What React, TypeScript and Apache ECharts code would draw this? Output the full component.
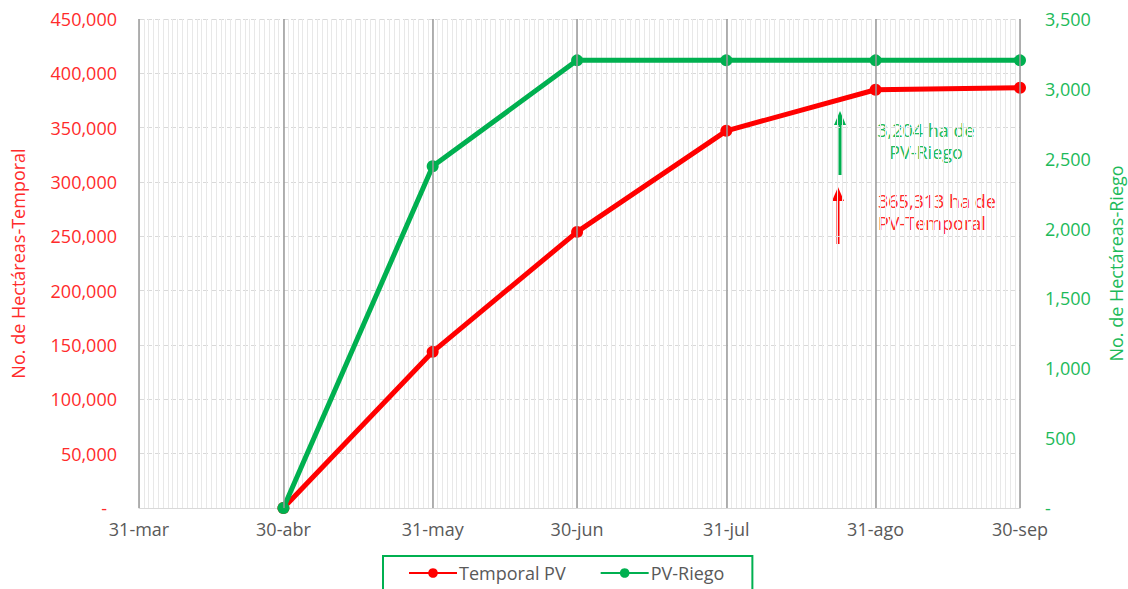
import React, { useEffect, useRef } from "react";
import * as echarts from "echarts";

// Axis ticks (month ends) and their labels
const tickDates = ["2023-03-31", "2023-04-30", "2023-05-31", "2023-06-30", "2023-07-31", "2023-08-31", "2023-09-30"];
const tickLabels = ["31-mar", "30-abr", "31-may", "30-jun", "31-jul", "31-ago", "30-sep"];

// Data points
const pointDates = ["2023-04-30", "2023-05-31", "2023-06-30", "2023-07-31", "2023-08-31", "2023-09-30"];
const temporalPV = [0, 143700, 254100, 347100, 384900, 386700];
const pvRiego = [0, 2446, 3204, 3204, 3204, 3204];

const seriesNames = ["Temporal PV", "PV-Riego"];

const START = Date.parse(tickDates[0]);
const dayOf = (d: string) => Math.round((Date.parse(d) - START) / 864e5);

const RED = "#FF0000";
const GREEN = "#00B050";
const RED_TXT = "#FF2B2B";
const GREEN_TXT = "#1DBA5A";
const GRAY_TXT = "#595959";
const FONT = "'Open Sans', 'DejaVu Sans', sans-serif";
const FS = 18;

export default function App() {
  const ref = useRef<HTMLDivElement>(null);
  useEffect(() => {
    if (!ref.current) return;
    const chart = echarts.init(ref.current, null, { renderer: "svg" });
    const tickDays = tickDates.map(dayOf);
    const maxDay = tickDays[tickDays.length - 1];
    const fmtNum = (v: number) => (v === 0 ? "{z|-}" : v.toLocaleString("en-US"));

    chart.setOption({
      animation: false,
      textStyle: { fontFamily: FONT },
      grid: { left: 139, right: 108, top: 19, bottom: 81, containLabel: false, outerBoundsMode: "none" },
      xAxis: {
        type: "value",
        min: 0,
        max: maxDay,
        interval: 1,
        axisLine: { show: true, lineStyle: { color: "#d9d9d9", width: 1 } },
        axisTick: { show: false },
        splitLine: { show: true, lineStyle: { color: "#e8e8e8", width: 1 } },
        axisLabel: {
          color: GRAY_TXT,
          fontSize: FS,
          fontFamily: FONT,
          margin: 12,
          showMinLabel: true,
          showMaxLabel: true,
          formatter: (v: number) => {
            const i = tickDays.indexOf(Math.round(v));
            return i >= 0 ? tickLabels[i] : "";
          },
        },
      },
      yAxis: [
        {
          type: "value",
          min: 0,
          max: 450000,
          interval: 50000,
          name: "No. de Hectáreas-Temporal",
          nameLocation: "middle",
          nameGap: 112,
          nameTextStyle: { color: RED_TXT, fontSize: FS, fontFamily: FONT },
          axisLine: { show: false },
          axisTick: { show: false },
          splitLine: { show: true, lineStyle: { color: "#d9d9d9", type: [5, 3], width: 1 } },
          axisLabel: {
            color: RED_TXT,
            fontSize: FS,
            fontFamily: FONT,
            margin: 22,
            formatter: fmtNum,
            rich: { z: { color: RED_TXT, fontSize: FS, padding: [0, 10, 0, 0] } },
          },
        },
        {
          type: "value",
          min: 0,
          max: 3500,
          interval: 500,
          name: "No. de Hectáreas-Riego",
          nameLocation: "middle",
          nameGap: 87,
          nameTextStyle: { color: GREEN_TXT, fontSize: FS, fontFamily: FONT },
          axisLine: { show: false },
          axisTick: { show: false },
          splitLine: { show: false },
          axisLabel: {
            color: GREEN_TXT,
            fontSize: FS,
            fontFamily: FONT,
            margin: 25,
            formatter: fmtNum,
            rich: { z: { color: GREEN_TXT, fontSize: FS } },
          },
        },
      ],
      legend: {
        data: seriesNames,
        left: 383,
        top: 556,
        padding: [8, 28, 12, 25],
        itemGap: 34,
        itemWidth: 48,
        itemHeight: 12,
        borderColor: GREEN,
        borderWidth: 2,
        textStyle: { color: GRAY_TXT, fontSize: FS, fontFamily: FONT, padding: [0, 0, 0, -3] },
      },
      series: [
        {
          name: "month-lines",
          type: "line",
          data: [],
          silent: true,
          z: 1,
          markLine: {
            silent: true,
            symbol: ["none", "none"],
            label: { show: false },
            lineStyle: { color: "#999999", width: 1.5, type: "solid" },
            data: tickDays.map((d) => ({ xAxis: d })),
          },
        },
        {
          name: seriesNames[0],
          type: "line",
          yAxisIndex: 0,
          z: 3,
          data: pointDates.map((d, i) => [dayOf(d), temporalPV[i]]),
          symbol: "circle",
          symbolSize: 12,
          lineStyle: { color: RED, width: 5 },
          itemStyle: { color: RED },
        },
        {
          name: seriesNames[1],
          type: "line",
          yAxisIndex: 1,
          z: 4,
          data: pointDates.map((d, i) => [dayOf(d), pvRiego[i]]),
          symbol: "circle",
          symbolSize: 12,
          lineStyle: { color: GREEN, width: 5 },
          itemStyle: { color: GREEN },
        },
      ],
      graphic: [
        { type: "line", shape: { x1: 840, y1: 175, x2: 840, y2: 122 }, style: { stroke: GREEN, lineWidth: 3 } },
        { type: "polygon", shape: { points: [[840, 111], [834, 125], [846, 125]] }, style: { fill: GREEN } },
        { type: "line", shape: { x1: 838, y1: 244, x2: 838, y2: 198 }, style: { stroke: RED, lineWidth: 3 } },
        { type: "polygon", shape: { points: [[838, 187], [832, 201], [844, 201]] }, style: { fill: RED } },
        {
          type: "text",
          x: 926,
          y: 119,
          style: {
            text: "3,204 ha de\nPV-Riego",
            fill: GREEN_TXT,
            font: `${FS}px ${FONT}`,
            lineHeight: 22,
            align: "center",
          },
        },
        {
          type: "text",
          x: 878,
          y: 190,
          style: {
            text: "365,313 ha de\nPV-Temporal",
            fill: RED_TXT,
            font: `${FS}px ${FONT}`,
            lineHeight: 22,
            align: "left",
          },
        },
      ],
    });
    return () => chart.dispose();
  }, []);
  return <div ref={ref} style={{ position: "absolute", left: 0, top: 0, width: 1128, height: 589 }} />;
}
